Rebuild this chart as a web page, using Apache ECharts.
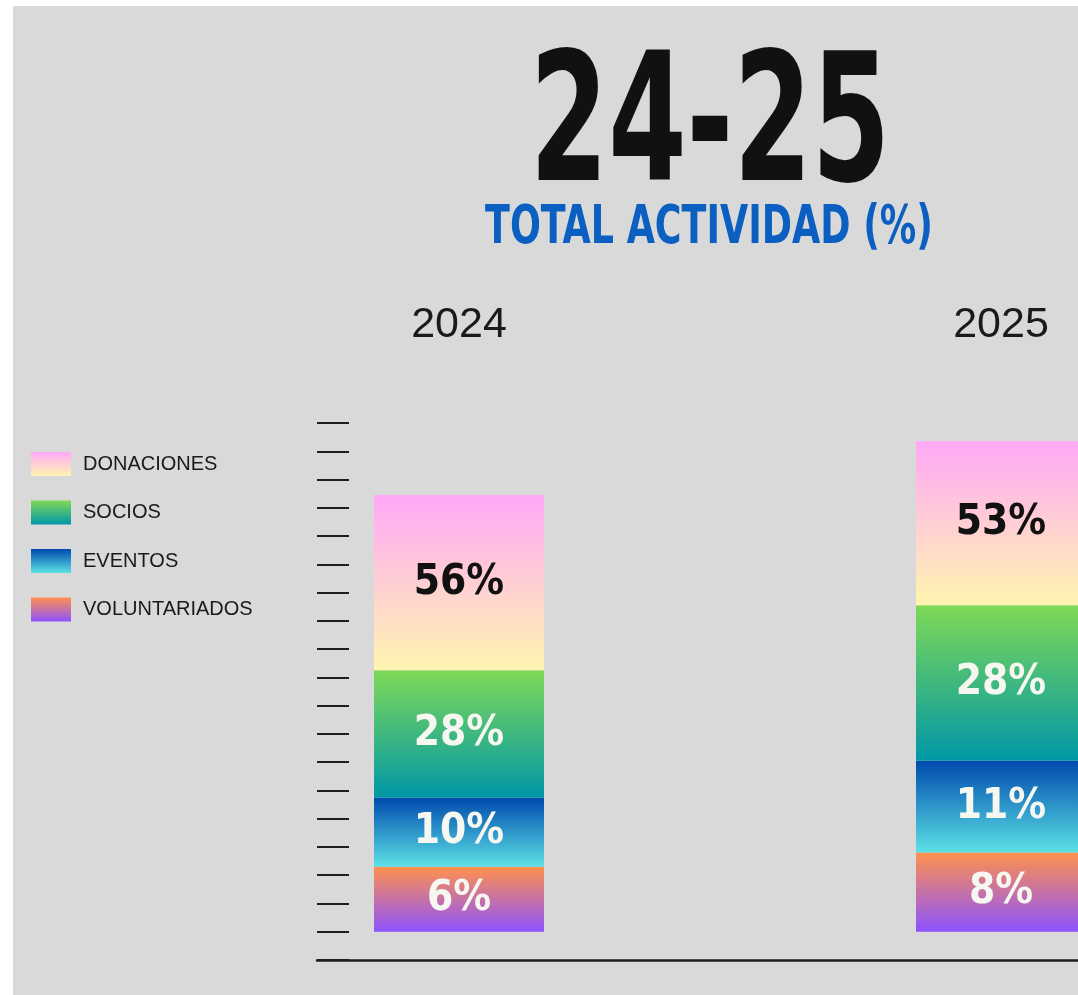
<!DOCTYPE html>
<html>
<head>
<meta charset="utf-8">
<script src="https://cdn.jsdelivr.net/npm/echarts@6/dist/echarts.min.js"></script>
<style>
  html, body { margin: 0; padding: 0; background: #ffffff; }
  #chart { position: absolute; left: 13px; top: 6px; width: 1065px; height: 989px; }
</style>
</head>
<body>
<div id="chart"></div>
<script>
// years on the x axis
const years = ["2024", "2025"];
// segment heights as drawn (axis units, 10 per tick)
const voluntariados = [23, 28];
const eventos = [24.5, 32.5];
const socios = [45, 55];
const donaciones = [62, 58];
// percentages printed in each segment
const voluntariadosPct = ["6%", "8%"];
const eventosPct = ["10%", "11%"];
const sociosPct = ["28%", "28%"];
const donacionesPct = ["56%", "53%"];

const condensed = "'Liberation Sans Narrow', 'DejaVu Sans Condensed', 'Arial Narrow', sans-serif";

function grad(top, bottom) {
  return new echarts.graphic.LinearGradient(0, 0, 0, 1, [
    { offset: 0, color: top },
    { offset: 1, color: bottom },
  ]);
}

function barSeries(name, values, labels, top, bottom, textColor) {
  return {
    type: "bar",
    name: name,
    stack: "total",
    xAxisIndex: 0,
    yAxisIndex: 0,
    barWidth: 170,
    data: values,
    itemStyle: { color: grad(top, bottom) },
    label: {
      show: true,
      position: "inside",
      formatter: (p) => labels[p.dataIndex],
      color: textColor,
      fontFamily: condensed,
      fontWeight: "bold",
      fontSize: 42,
    },
    emphasis: { disabled: true },
  };
}

const chart = echarts.init(document.getElementById("chart"), null, { renderer: "canvas" });

chart.setOption({
  backgroundColor: "#d9d9d9",
  animation: false,
  graphic: [
    {
      type: "text",
      x: 697,
      y: 127,
      scaleX: 0.7,
      style: {
        text: "24-25",
        x: 0,
        y: 0,
        textAlign: "center",
        textVerticalAlign: "middle",
        fontFamily: condensed,
        fontWeight: "bold",
        fontSize: 179,
        fill: "#121110",
      },
    },
    {
      type: "text",
      x: 696,
      y: 223,
      scaleX: 0.75,
      style: {
        text: "TOTAL ACTIVIDAD (%)",
        x: 0,
        y: 0,
        textAlign: "center",
        textVerticalAlign: "middle",
        fontFamily: condensed,
        fontWeight: "bold",
        fontSize: 54,
        fill: "#0a5fc0",
      },
    },
  ],
  legend: {
    orient: "vertical",
    left: 18,
    top: 446,
    padding: 0,
    itemWidth: 40,
    itemHeight: 24,
    itemGap: 24.5,
    icon: "rect",
    selectedMode: false,
    data: ["DONACIONES", "SOCIOS", "EVENTOS", "VOLUNTARIADOS"],
    textStyle: {
      color: "#1a1a1a",
      fontFamily: "'Liberation Sans', Arial, sans-serif",
      fontSize: 20,
      padding: [0, 0, 0, 7],
    },
  },
  grid: [
    { left: 175, width: 1084, top: 417, bottom: 35, outerBoundsMode: "none" },
    { left: 304, right: 0, top: 417, bottom: 35, outerBoundsMode: "none" },
  ],
  xAxis: [
    {
      type: "category",
      gridIndex: 0,
      position: "top",
      data: years,
      axisLine: { show: false },
      axisTick: { show: false },
      axisLabel: {
        margin: 76,
        color: "#1a1a1a",
        fontFamily: "'Liberation Sans', Arial, sans-serif",
        fontSize: 43,
      },
    },
    {
      type: "category",
      gridIndex: 1,
      data: [],
      axisLine: { show: true, onZero: false, lineStyle: { color: "#1e1e1e", width: 2.5 } },
      axisTick: { show: false },
      axisLabel: { show: false },
    },
  ],
  yAxis: [
    {
      type: "value",
      gridIndex: 0,
      min: -10,
      max: 180,
      interval: 10,
      show: false,
    },
    {
      type: "value",
      gridIndex: 1,
      min: -10,
      max: 180,
      interval: 10,
      axisLine: { show: false },
      axisLabel: { show: false },
      splitLine: { show: false },
      axisTick: {
        show: true,
        inside: true,
        length: 32,
        lineStyle: { color: "#1e1e1e", width: 2 },
      },
    },
  ],
  series: [
    barSeries("VOLUNTARIADOS", voluntariados, voluntariadosPct, "#ff914d", "#8c52ff", "#f7f7f2"),
    barSeries("EVENTOS", eventos, eventosPct, "#004aad", "#5ce1e6", "#f7f7f2"),
    barSeries("SOCIOS", socios, sociosPct, "#7ed957", "#0097a7", "#f7f7f2"),
    barSeries("DONACIONES", donaciones, donacionesPct, "#ffa8f7", "#fff5b0", "#111111"),
  ],
});
</script>
</body>
</html>
